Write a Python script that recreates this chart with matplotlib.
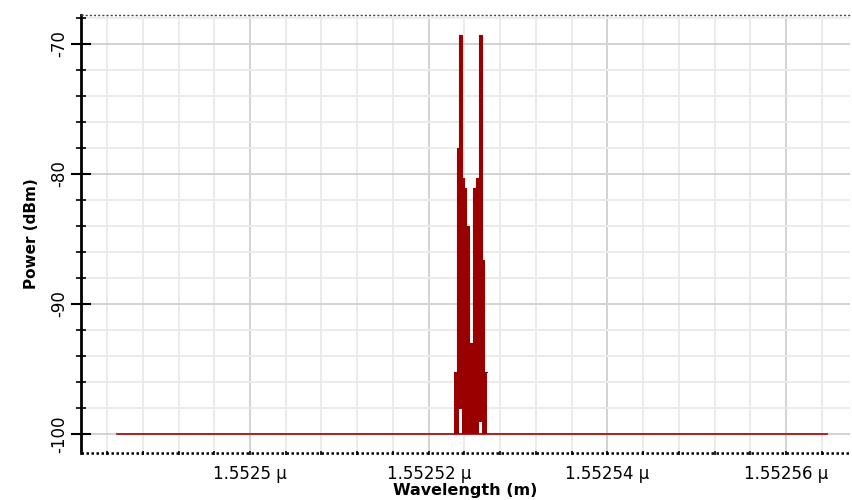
import matplotlib
matplotlib.use("Agg")
import matplotlib.pyplot as plt
from matplotlib.ticker import MultipleLocator, FixedLocator, FuncFormatter

# Spectrum data (wavelength in micrometres, power in dBm)
# flat noise floor across the whole span
floor_wl = [1.5524851, 1.5525646]
floor_pw = [-100.0, -100.0]

# step segments of the signal around 1.552525 um (edges of each bin)
peak_edges = [1.55252283, 1.55252311, 1.55252343, 1.55252373, 1.55252395,
              1.55252421, 1.55252448, 1.55252490, 1.55252524, 1.55252566,
              1.55252597, 1.55252615, 1.55252647]
# max / min power inside each bin
peak_upper = [-95.2, -78.0, -69.3, -80.3, -81.1, -84.0,
              -93.0, -81.1, -80.3, -69.3, -86.6, -95.2]
peak_lower = [-100.0, -100.0, -98.1, -100.0, -100.0, -100.0,
              -100.0, -100.0, -100.0, -99.1, -100.0, -100.0]

x_major = [1.5525, 1.55252, 1.55254, 1.55256]
y_major = [-100, -90, -80, -70]

plt.rcParams['font.family'] = ['DejaVu Sans']

fig = plt.figure(figsize=(8.52, 5.0), dpi=100)
ax = fig.add_axes([0.0951, 0.094, 0.9026, 0.876])

red_fill = '#990000'
red_line = '#b00000'

ax.plot(floor_wl, floor_pw, color=red_line, lw=1.2, zorder=3)

up = peak_upper + [peak_upper[-1]]
lo = peak_lower + [peak_lower[-1]]
ax.fill_between(peak_edges, lo, up, step='post', color=red_fill, lw=0, zorder=4)
ax.step(peak_edges, up, where='post', color=red_fill, lw=0.8, zorder=4)

ax.set_xlim(1.55248109, 1.55256715)
ax.set_ylim(-101.46, -67.77)

# ticks
ax.xaxis.set_major_locator(FixedLocator(x_major))
ax.xaxis.set_minor_locator(MultipleLocator(0.000004))
ax.yaxis.set_major_locator(FixedLocator(y_major))
ax.yaxis.set_minor_locator(MultipleLocator(2))


def wl_fmt(v, pos):
    s = "%.5f" % v
    s = s.rstrip('0')
    return s + " \u03bc"


ax.xaxis.set_major_formatter(FuncFormatter(wl_fmt))
ax.yaxis.set_major_formatter(FuncFormatter(lambda v, p: "%d" % v))

ax.tick_params(axis='y', which='major', direction='inout', length=14,
               width=1.5, labelsize=12, pad=2)
ax.tick_params(axis='y', which='minor', direction='inout', length=7, width=1.2)
ax.tick_params(axis='x', which='both', direction='inout', length=3,
               width=1.2, labelsize=12, pad=7)
for lab in ax.get_yticklabels():
    lab.set_rotation(90)
    lab.set_va('center')

# grid
ax.grid(which='minor', color='#ebebeb', lw=1.4, zorder=0)
ax.grid(which='major', color='#d2d2d2', lw=1.4, zorder=0)
ax.set_axisbelow(True)

# spines
ax.spines['right'].set_visible(False)
ax.spines['left'].set_linewidth(2)
ax.spines['left'].set_color('black')
ax.spines['bottom'].set_linestyle((0, (1, 1)))
ax.spines['bottom'].set_linewidth(1.8)
ax.spines['bottom'].set_capstyle('butt')
ax.spines['top'].set_linestyle((0, (1.5, 1.5)))
ax.spines['top'].set_linewidth(1.0)
ax.spines['top'].set_capstyle('butt')
ax.spines['top'].set_color('#444444')

ax.set_xlabel("Wavelength (m)", fontsize=11.5, fontweight='bold', labelpad=0)
ax.set_ylabel("Power (dBm)", fontsize=11, fontweight='bold', labelpad=8)

fig.savefig("out.png", dpi=100)
